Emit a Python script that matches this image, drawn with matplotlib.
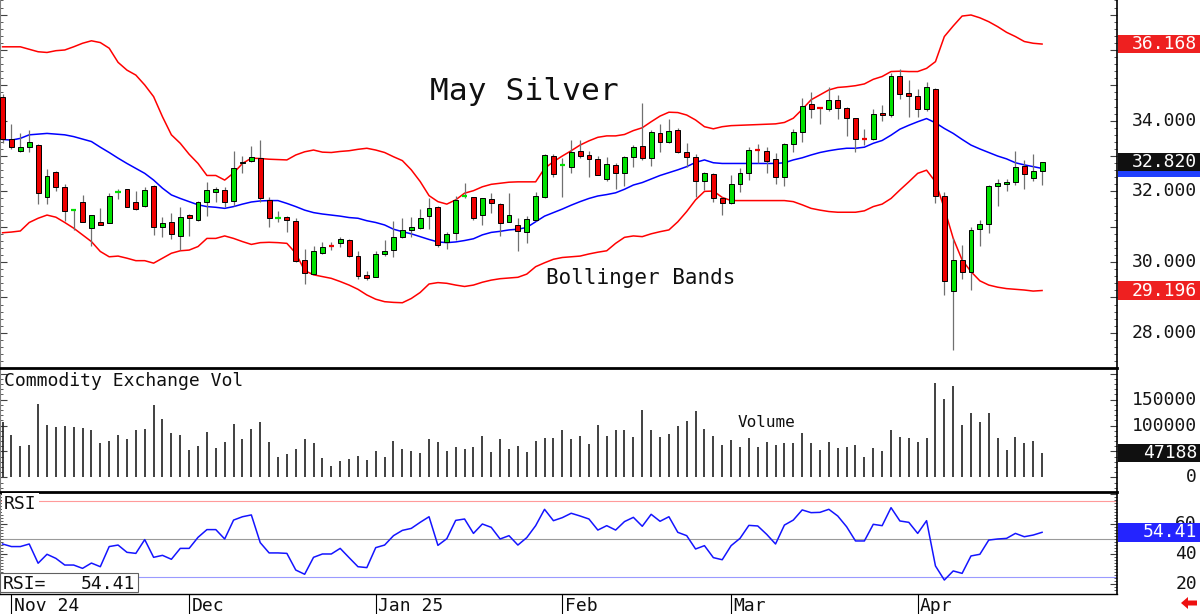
import matplotlib
matplotlib.use("Agg")
import numpy as np
import matplotlib.pyplot as plt
from matplotlib.patches import Rectangle, Polygon
from matplotlib.ticker import MultipleLocator

# daily OHLC, May silver futures
opens = [34.68, 33.47, 33.15, 33.25, 33.31, 31.83, 32.56, 32.12, 31.46, 31.69,
         30.97, 31.13, 31.10, 31.96, 32.06, 31.71, 31.60, 32.15, 31.00, 31.13,
         30.75, 31.33, 31.19, 31.71, 31.99, 32.03, 31.74, 32.79, 32.86, 32.95,
         31.76, 31.24, 31.27, 31.17, 30.06, 29.66, 30.25, 30.46, 30.53, 30.62,
         30.18, 29.64, 29.59, 30.23, 30.34, 30.71, 30.91, 30.97, 31.29, 31.56,
         30.57, 30.81, 31.86, 31.83, 31.33, 31.78, 31.63, 31.13, 31.05, 30.86,
         31.19, 31.85, 33.00, 32.75, 32.70, 33.13, 33.04, 32.91, 32.35, 32.75,
         32.53, 32.98, 33.28, 32.95, 33.64, 33.39, 33.74, 33.12, 32.98, 32.30,
         32.49, 31.80, 31.68, 32.21, 32.51, 33.19, 33.15, 32.91, 32.42, 33.33,
         33.67, 34.47, 34.36, 34.33, 34.59, 34.36, 34.07, 33.49, 33.47, 34.21,
         34.16, 35.25, 34.77, 34.71, 34.32, 34.89, 31.87, 29.18, 30.06, 29.73,
         30.93, 31.08, 32.15, 32.22, 32.26, 32.73, 32.37, 32.59]
highs = [34.76, 33.90, 33.64, 33.74, 33.34, 32.63, 32.59, 32.21, 31.51, 31.89,
         31.32, 31.52, 31.95, 32.06, 32.07, 32.01, 32.12, 32.17, 31.27, 31.40,
         31.57, 31.35, 31.73, 32.27, 32.13, 32.13, 33.14, 33.00, 33.27, 33.45,
         31.83, 31.45, 31.29, 31.25, 30.36, 30.46, 30.57, 30.57, 30.72, 30.64,
         30.32, 29.76, 30.32, 30.62, 31.16, 31.24, 31.28, 31.50, 31.80, 31.59,
         30.86, 31.88, 32.23, 31.85, 31.82, 31.95, 31.66, 31.95, 31.24, 31.29,
         31.99, 33.06, 33.06, 32.94, 33.44, 33.45, 33.15, 33.00, 32.96, 32.79,
         33.00, 33.31, 34.51, 33.74, 33.90, 34.04, 33.80, 33.38, 33.05, 32.56,
         32.53, 31.85, 32.45, 32.65, 33.25, 33.33, 33.25, 33.08, 33.36, 33.77,
         34.63, 34.82, 34.40, 34.94, 34.73, 34.40, 34.09, 33.76, 34.32, 34.44,
         35.36, 35.45, 35.15, 34.89, 35.10, 34.92, 31.99, 30.67, 30.48, 31.00,
         31.19, 32.18, 32.34, 32.35, 33.14, 32.89, 33.05, 32.84]
lows = [33.36, 33.19, 33.12, 33.12, 31.64, 31.63, 32.00, 31.17, 30.91, 31.12,
        30.46, 31.05, 31.10, 31.78, 31.55, 31.47, 31.55, 30.78, 30.72, 30.64,
        30.34, 30.75, 31.16, 31.29, 31.71, 31.57, 31.59, 32.53, 32.84, 31.71,
        31.00, 31.14, 30.84, 30.01, 29.37, 29.65, 30.23, 30.34, 30.42, 30.14,
        29.51, 29.49, 29.57, 30.17, 30.13, 30.67, 30.70, 30.94, 30.93, 30.44,
        30.37, 30.63, 31.80, 31.19, 31.05, 31.40, 30.74, 31.12, 30.32, 30.53,
        31.17, 31.82, 32.40, 31.85, 32.53, 32.94, 32.40, 32.45, 32.30, 32.06,
        32.15, 32.70, 32.89, 32.73, 33.12, 33.36, 33.10, 32.70, 31.85, 32.04,
        31.71, 31.33, 31.64, 31.99, 32.32, 32.79, 32.51, 32.21, 32.16, 33.12,
        33.39, 34.07, 33.90, 34.27, 34.05, 33.57, 33.11, 33.31, 33.45, 34.00,
        34.11, 34.60, 34.11, 34.11, 34.26, 31.66, 29.07, 27.51, 29.52, 29.21,
        30.46, 30.81, 31.60, 32.01, 32.18, 32.06, 32.29, 32.18]
closes = [33.47, 33.25, 33.25, 33.41, 31.95, 32.44, 32.12, 31.45, 31.48, 31.13,
          31.32, 31.05, 31.86, 31.98, 31.56, 31.49, 32.04, 31.00, 31.10, 30.80,
          31.27, 31.24, 31.71, 32.03, 32.06, 31.69, 32.65, 32.84, 32.97, 31.80,
          31.24, 31.26, 31.19, 30.03, 29.68, 30.31, 30.44, 30.45, 30.65, 30.18,
          29.62, 29.54, 30.23, 30.32, 30.71, 30.91, 31.00, 31.26, 31.54, 30.48,
          30.79, 31.76, 31.88, 31.24, 31.80, 31.68, 31.10, 31.32, 30.87, 31.21,
          31.87, 33.03, 32.49, 32.77, 33.12, 33.00, 32.91, 32.45, 32.77, 32.51,
          32.98, 33.25, 32.94, 33.69, 33.39, 33.71, 33.12, 32.98, 32.30, 32.51,
          31.80, 31.66, 32.21, 32.51, 33.17, 33.17, 32.86, 32.42, 33.33, 33.68,
          34.42, 34.32, 34.34, 34.59, 34.37, 34.07, 33.48, 33.47, 34.18, 34.16,
          35.25, 34.76, 34.71, 34.32, 34.94, 31.88, 29.47, 30.06, 29.71, 30.91,
          31.08, 32.15, 32.23, 32.27, 32.70, 32.50, 32.58, 32.82]

upper_band = [36.09, 36.09, 36.09, 36.02, 35.95, 35.93, 35.98, 36.00, 36.09, 36.19,
              36.26, 36.21, 36.05, 35.65, 35.43, 35.29, 35.01, 34.68, 34.11, 33.60,
              33.36, 33.05, 32.79, 32.45, 32.45, 32.32, 32.52, 32.79, 32.94, 32.93,
              32.91, 32.90, 32.89, 33.03, 33.12, 33.17, 33.11, 33.10, 33.13, 33.15,
              33.19, 33.22, 33.17, 33.10, 32.98, 32.87, 32.61, 32.28, 31.88, 31.71,
              31.64, 31.76, 31.95, 32.02, 32.13, 32.20, 32.23, 32.26, 32.27, 32.27,
              32.27, 32.65, 32.84, 33.00, 33.15, 33.31, 33.43, 33.53, 33.57, 33.57,
              33.61, 33.72, 33.80, 33.97, 34.13, 34.24, 34.23, 34.16, 34.02, 33.83,
              33.77, 33.83, 33.86, 33.87, 33.88, 33.89, 33.90, 33.91, 33.95, 34.07,
              34.32, 34.59, 34.73, 34.87, 34.94, 34.96, 34.99, 35.04, 35.17, 35.25,
              35.39, 35.40, 35.39, 35.39, 35.48, 35.67, 36.38, 36.68, 36.96, 36.99,
              36.91, 36.80, 36.66, 36.50, 36.38, 36.24, 36.19, 36.168]
mid_band = [33.47, 33.45, 33.50, 33.60, 33.62, 33.64, 33.62, 33.60, 33.55, 33.48,
            33.41, 33.25, 33.10, 32.94, 32.79, 32.65, 32.51, 32.32, 32.09, 31.90,
            31.80, 31.71, 31.62, 31.57, 31.55, 31.52, 31.57, 31.64, 31.70, 31.73,
            31.74, 31.74, 31.66, 31.57, 31.47, 31.40, 31.36, 31.33, 31.30, 31.26,
            31.24, 31.17, 31.12, 31.05, 30.93, 30.86, 30.80, 30.72, 30.64, 30.57,
            30.55, 30.57, 30.61, 30.66, 30.77, 30.84, 30.87, 30.91, 30.93, 30.98,
            31.14, 31.30, 31.40, 31.50, 31.61, 31.71, 31.80, 31.87, 31.91, 31.96,
            32.06, 32.18, 32.25, 32.35, 32.45, 32.53, 32.61, 32.70, 32.82, 32.89,
            32.81, 32.79, 32.79, 32.79, 32.79, 32.79, 32.79, 32.79, 32.81, 32.89,
            32.95, 33.03, 33.10, 33.15, 33.19, 33.22, 33.22, 33.25, 33.36, 33.44,
            33.59, 33.76, 33.87, 33.97, 34.06, 33.94, 33.78, 33.64, 33.47, 33.31,
            33.20, 33.10, 33.00, 32.92, 32.81, 32.75, 32.70, 32.65]
lower_band = [30.83, 30.85, 30.88, 31.12, 31.24, 31.33, 31.27, 31.12, 30.96, 30.77,
              30.58, 30.30, 30.15, 30.17, 30.11, 30.04, 30.04, 29.97, 30.11, 30.25,
              30.32, 30.34, 30.44, 30.67, 30.67, 30.74, 30.67, 30.58, 30.50, 30.55,
              30.56, 30.55, 30.53, 30.25, 29.76, 29.64, 29.59, 29.54, 29.45, 29.35,
              29.23, 29.07, 28.95, 28.88, 28.86, 28.85, 28.97, 29.14, 29.38, 29.42,
              29.40, 29.35, 29.31, 29.35, 29.43, 29.49, 29.53, 29.55, 29.57, 29.66,
              29.87, 29.98, 30.08, 30.13, 30.15, 30.17, 30.23, 30.28, 30.32, 30.53,
              30.70, 30.74, 30.72, 30.80, 30.86, 30.91, 31.14, 31.43, 31.76, 32.00,
              32.01, 31.83, 31.74, 31.74, 31.74, 31.74, 31.74, 31.74, 31.74, 31.71,
              31.62, 31.52, 31.47, 31.43, 31.41, 31.41, 31.41, 31.45, 31.57, 31.64,
              31.80, 32.04, 32.27, 32.51, 32.60, 32.27, 31.52, 30.67, 30.06, 29.73,
              29.47, 29.35, 29.29, 29.25, 29.23, 29.21, 29.18, 29.196]

volume = [105800, 81500, 61500, 62800, 141600, 101300, 97400, 99400, 96800, 95500,
          91700, 65400, 70500, 81500, 73100, 90400, 93500, 139600, 112100, 85900,
          81500, 53200, 60900, 87100, 56500, 68600, 103200, 73100, 93500, 107000,
          68600, 39700, 45500, 54500, 73100, 66000, 37200, 21200, 31400, 35900,
          42300, 34600, 50000, 39700, 70500, 55100, 50000, 46800, 73700, 68600,
          50000, 59000, 55100, 58300, 80100, 48100, 75000, 55100, 60900, 48700,
          70500, 76900, 76900, 91700, 73100, 80100, 64700, 100700, 80100, 91700,
          90400, 78200, 130700, 91700, 78200, 84000, 99400, 108900, 127600, 92900,
          79500, 62200, 71700, 59000, 76300, 58300, 68000, 62200, 66600, 66600,
          85300, 66600, 53200, 68000, 56500, 58300, 62200, 39100, 56500, 51300,
          90400, 78200, 76300, 68600, 76300, 181400, 151200, 175600, 100700, 124300,
          105800, 123100, 76300, 53200, 78200, 65400, 69900, 47188]

rsi = [46.7, 45.0, 45.0, 46.7, 34.0, 39.9, 37.2, 32.8, 32.8, 30.6,
       34.1, 31.7, 45.0, 46.0, 41.2, 40.5, 49.6, 37.9, 39.2, 36.6,
       43.8, 43.8, 51.1, 56.2, 56.2, 50.0, 62.5, 64.7, 65.9, 47.6,
       40.8, 40.8, 40.5, 29.5, 26.7, 37.9, 40.1, 40.1, 43.8, 37.7,
       31.7, 31.1, 44.3, 46.0, 52.2, 55.7, 57.0, 61.0, 64.7, 45.8,
       50.2, 62.3, 63.2, 53.7, 59.9, 57.7, 50.0, 52.2, 46.0, 50.9,
       58.8, 69.6, 62.1, 64.1, 67.0, 65.2, 63.2, 55.9, 58.8, 55.9,
       61.5, 64.3, 58.4, 66.3, 61.7, 64.7, 54.4, 52.2, 43.4, 45.6,
       37.7, 36.3, 45.6, 50.4, 59.0, 58.6, 53.1, 46.7, 59.2, 62.5,
       69.2, 67.4, 67.6, 69.6, 65.2, 58.1, 48.7, 48.7, 59.7, 58.8,
       70.7, 61.9, 61.0, 53.7, 62.1, 32.2, 22.9, 28.9, 27.3, 38.8,
       39.9, 49.3, 50.0, 50.4, 53.7, 51.5, 52.6, 54.41]

month_pos = [1, 21, 42, 63, 82, 103]
month_labels = ['Nov 24', 'Dec', 'Jan 25', 'Feb', 'Mar', 'Apr']

price_labels = [28, 30, 32, 34]
volume_labels = [0, 100000, 150000]
rsi_labels = [20, 40, 60]

MONO = 'DejaVu Sans Mono'
W, H = 1200, 614
RX = 1116.7  # right edge of the plotting area in pixels


def frame(x0, y0, x1, y1):
    return [x0 / W, 1 - y1 / H, (x1 - x0) / W, (y1 - y0) / H]


def tag(ax, val, text, fc, h):
    ax.add_patch(Rectangle((1.0 + 1 / RX, val - h / 2), (W - RX) / RX, h,
                           transform=ax.get_yaxis_transform(), facecolor=fc,
                           edgecolor='none', clip_on=False, zorder=20))
    if text:
        ax.text(1197 / RX, val, text, transform=ax.get_yaxis_transform(),
                ha='right', va='center', fontsize=13, family=MONO,
                color='white', clip_on=False, zorder=21)


def axis_label(ax, val, text):
    ax.text(1197 / RX, val, text, transform=ax.get_yaxis_transform(),
            ha='right', va='center', fontsize=13, family=MONO,
            color='#151515', clip_on=False, zorder=5)


fig = plt.figure(figsize=(12, 6.14), dpi=100)
ax_p = fig.add_axes(frame(0, 0, RX, 368))
ax_v = fig.add_axes(frame(0, 368, RX, 492))
ax_r = fig.add_axes(frame(0, 492, RX, 594))

x = np.arange(len(closes))
o = np.array(opens)
c = np.array(closes)

for ax in (ax_p, ax_v, ax_r):
    for s in ('top', 'bottom'):
        ax.spines[s].set_visible(False)
    ax.spines['right'].set_color('black')
    ax.spines['right'].set_linewidth(1.2)
    ax.spines['left'].set_color('#808080')
    ax.spines['left'].set_linewidth(0.8)
    ax.tick_params(axis='x', bottom=False, labelbottom=False)
    ax.tick_params(axis='y', which='both', direction='in', left=True, right=True,
                   labelleft=False, labelright=False, color='#404040')
    ax.tick_params(axis='y', which='major', length=5, width=0.8)
    ax.tick_params(axis='y', which='minor', length=2.5, width=0.6)

# --- price panel
ax_p.plot(x, upper_band, color='#ff0000', lw=1.1, zorder=2)
ax_p.plot(x, lower_band, color='#ff0000', lw=1.1, zorder=2)
ax_p.plot(x, mid_band, color='#0000ff', lw=1.1, zorder=2)
ax_p.vlines(x, lows, highs, color='#707070', lw=0.9, zorder=3)

up = c >= o
doji = np.abs(c - o) < 0.03
cols = np.where(up, '#00e000', '#ee0000')
body = ~doji
ax_p.bar(x[body], np.abs(c - o)[body], bottom=np.minimum(o, c)[body], width=0.55,
         color=cols[body], edgecolor='black', linewidth=0.7, zorder=4)
ax_p.hlines(((o + c) / 2)[doji], x[doji] - 0.3, x[doji] + 0.3, colors=cols[doji],
            lw=1.6, zorder=4)

ax_p.yaxis.set_major_locator(MultipleLocator(1))
ax_p.yaxis.set_minor_locator(MultipleLocator(0.2))
for v in price_labels:
    axis_label(ax_p, v, f'{v:.3f}')
tag(ax_p, upper_band[-1], f'{upper_band[-1]:.3f}', '#ee2020', 0.51)
tag(ax_p, lower_band[-1], f'{lower_band[-1]:.3f}', '#ee2020', 0.51)
tag(ax_p, mid_band[-1], '', '#2040ff', 0.51)
tag(ax_p, closes[-1], f'{closes[-1]:.3f}', '#101010', 0.51)

ax_p.text(430 / RX, 0.728, 'May Silver', transform=ax_p.transAxes, fontsize=22.5,
          family=MONO, color='#101010', va='baseline')
ax_p.text(546 / RX, 0.228, 'Bollinger Bands', transform=ax_p.transAxes, fontsize=15,
          family=MONO, color='#101010', va='baseline')

# --- volume panel
ax_v.spines['top'].set_visible(True)
ax_v.spines['top'].set_linewidth(2)
ax_v.spines['top'].set_color('black')
ax_v.vlines(x, 0, volume, color='#202020', lw=1.2)
ax_v.yaxis.set_major_locator(MultipleLocator(50000))
ax_v.yaxis.set_minor_locator(MultipleLocator(10000))
for v in volume_labels:
    axis_label(ax_v, v, f'{v}')
tag(ax_v, volume[-1], f'{volume[-1]}', '#101010', 34600)
ax_v.text(4 / RX, 0.855, 'Commodity Exchange Vol', transform=ax_v.transAxes,
          fontsize=13, family=MONO, color='#101010', va='baseline')
ax_v.text(738 / RX, 0.524, 'Volume', transform=ax_v.transAxes,
          fontsize=11.5, family=MONO, color='#101010', va='baseline')

# --- RSI panel
ax_r.spines['top'].set_visible(True)
ax_r.spines['top'].set_linewidth(2)
ax_r.spines['top'].set_color('black')
ax_r.spines['bottom'].set_visible(True)
ax_r.spines['bottom'].set_linewidth(1)
ax_r.spines['bottom'].set_color('black')
ax_r.axhline(75, color='#ff9a9a', lw=0.8, zorder=1)
ax_r.axhline(50, color='#9a9a9a', lw=0.8, zorder=1)
ax_r.axhline(25, color='#9a9aff', lw=0.8, zorder=1)
ax_r.plot(x, rsi, color='#1414ff', lw=1.1, zorder=3)
ax_r.yaxis.set_major_locator(MultipleLocator(20))
ax_r.yaxis.set_minor_locator(MultipleLocator(2))
for v in rsi_labels:
    axis_label(ax_r, v, f'{v}')
tag(ax_r, rsi[-1], f'{rsi[-1]:.2f}', '#2424ff', 12.5)
ax_r.text(4 / RX, 0.833, 'RSI', transform=ax_r.transAxes, fontsize=13, family=MONO,
          color='#101010', va='baseline', zorder=6,
          bbox=dict(facecolor='white', edgecolor='none', pad=1.5))
ax_r.add_patch(Rectangle((0, 0.02), 138 / RX, 0.186, transform=ax_r.transAxes,
                         facecolor='white', edgecolor='#606060', lw=0.8, zorder=6))
ax_r.text(3 / RX, 0.05, 'RSI=', transform=ax_r.transAxes, fontsize=13, family=MONO,
          color='#101010', va='baseline', zorder=7)
ax_r.text(135 / RX, 0.05, f'{rsi[-1]:.2f}', transform=ax_r.transAxes, fontsize=13,
          family=MONO, color='#101010', va='baseline', ha='right', zorder=7)

ax_r.set_xticks(month_pos)
ax_r.tick_params(axis='x', bottom=True, direction='out', length=14.4, width=0.8,
                 color='black', labelbottom=False)
for p, lab in zip(month_pos, month_labels):
    ax_r.text(p + 0.25, -0.167, lab, transform=ax_r.get_xaxis_transform(),
              fontsize=13, family=MONO, color='#101010', va='baseline',
              ha='left', clip_on=False)

for ax in (ax_p, ax_v, ax_r):
    ax.set_xlim(-0.29, 125.4)
ax_p.set_ylim(27.004, 37.414)
ax_v.set_ylim(-27900, 210600)
ax_r.set_ylim(13.67, 81.04)

# little red arrow in the bottom right corner
pts = [(1181, 603), (1188, 597), (1188, 600.5), (1197, 600.5), (1197, 605.5),
       (1188, 605.5), (1188, 609)]
fig.add_artist(Polygon([(px / W, 1 - py / H) for px, py in pts], closed=True,
                       transform=fig.transFigure, facecolor='#ee1010',
                       edgecolor='none'))

fig.savefig('out.png', dpi=100)
